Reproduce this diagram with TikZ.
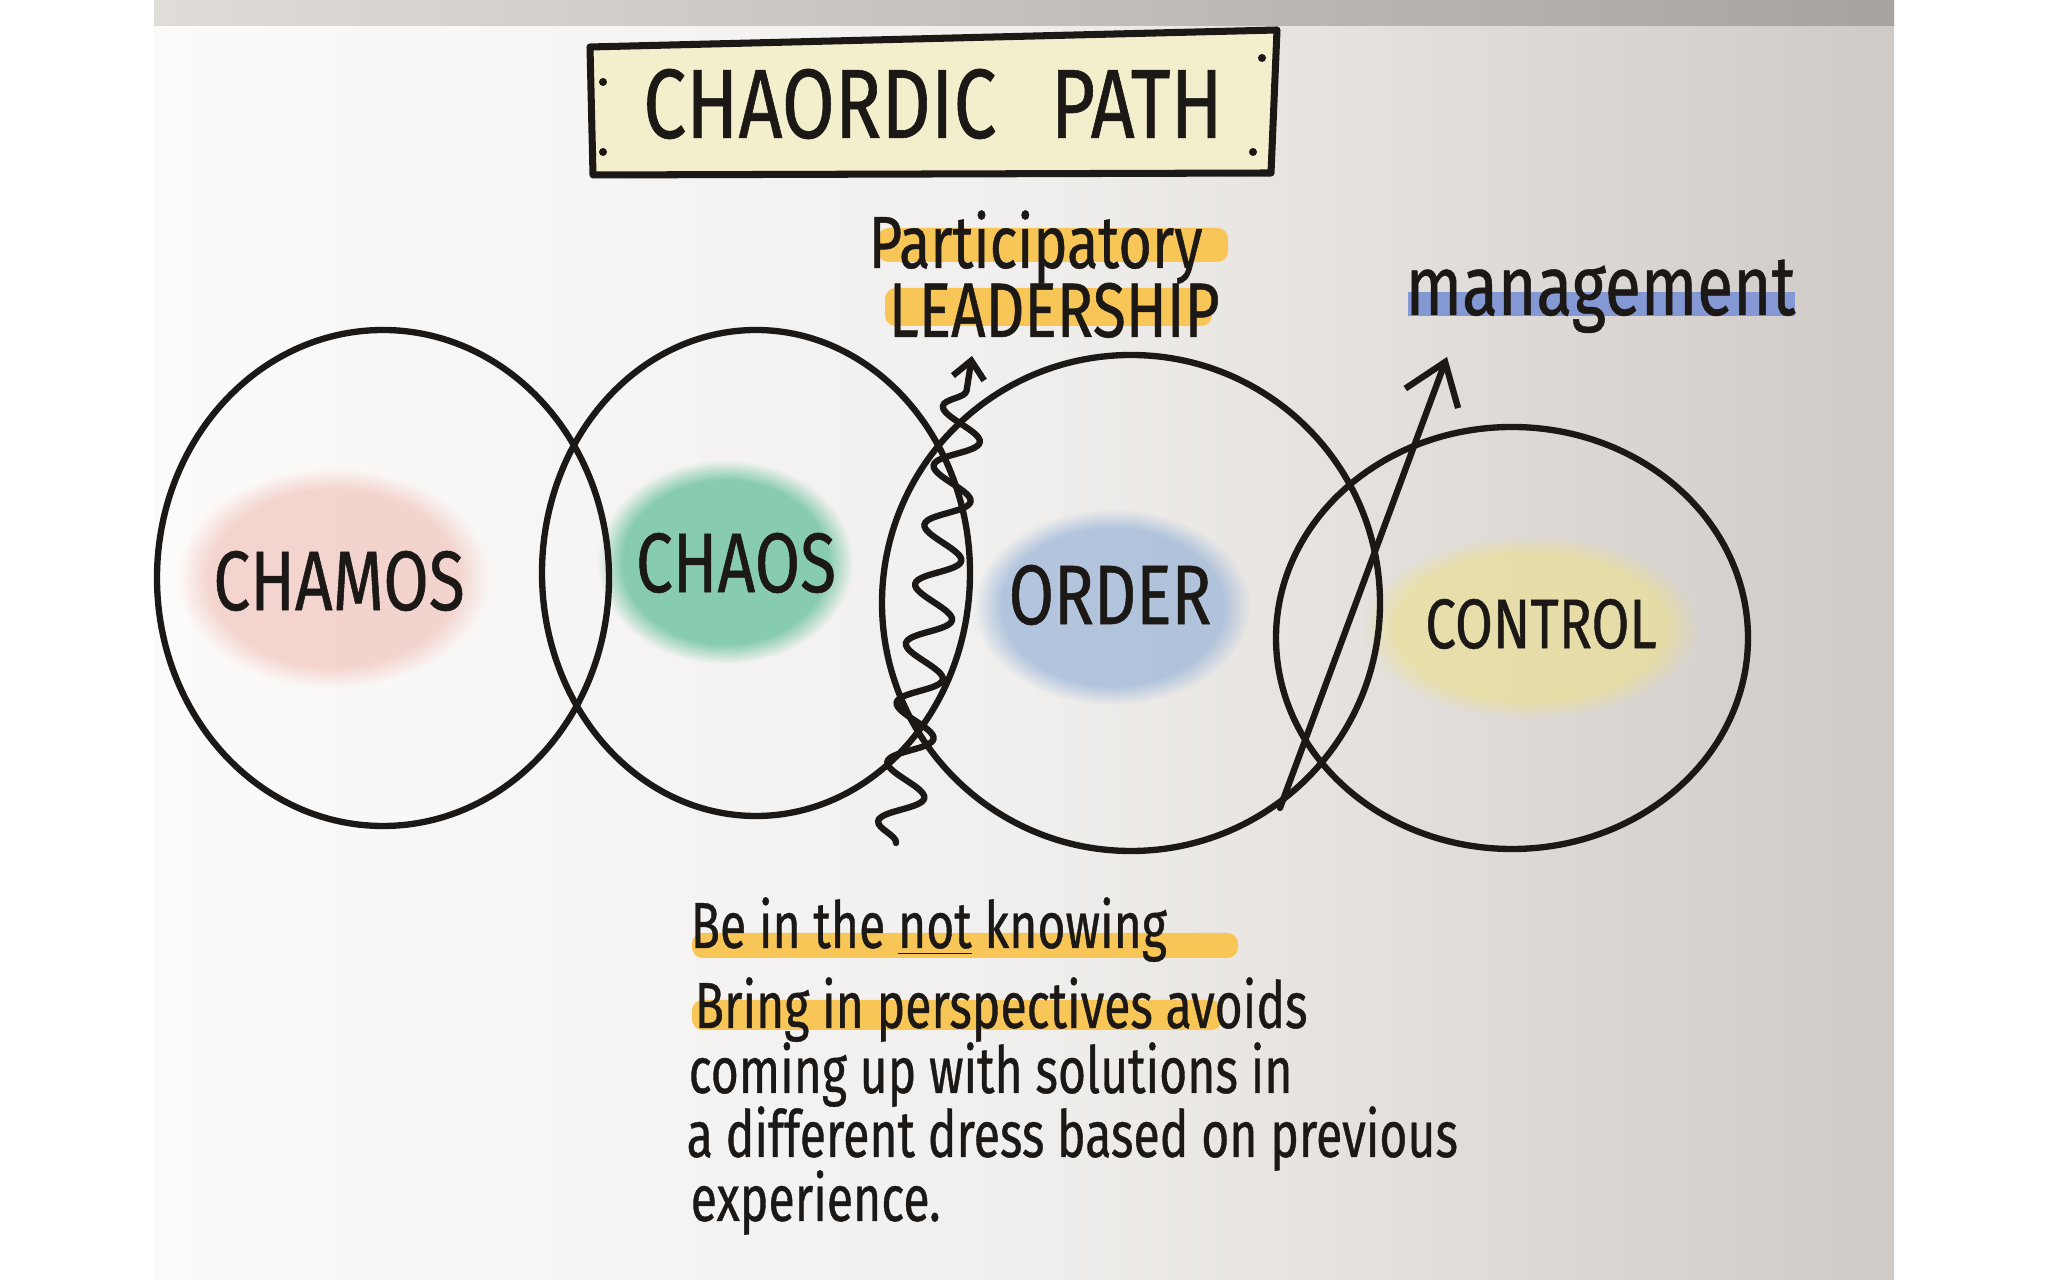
\documentclass[tikz,border=0pt]{standalone}
\usepackage{fontspec}
\newfontfamily\hand[FakeStretch=0.78, FakeBold=0.6]{Fira Sans}
\newfontfamily\handnarrow[FakeStretch=0.74, FakeBold=0.6]{Fira Sans}
\usepackage{tikz}
\usetikzlibrary{arrows.meta, decorations.pathmorphing, fadings}

\definecolor{ink}{RGB}{28,24,22}
\definecolor{marker}{RGB}{247,198,86}
\definecolor{markblue}{RGB}{132,152,212}
\definecolor{titlefill}{RGB}{243,238,204}
\definecolor{paperL}{RGB}{253,251,249}
\definecolor{paperM}{RGB}{241,239,237}
\definecolor{paperR}{RGB}{207,202,198}
\definecolor{bandL}{RGB}{224,220,216}
\definecolor{bandR}{RGB}{168,163,158}
\definecolor{blobred}{RGB}{238,176,166}
\definecolor{blobgreen}{RGB}{90,188,148}
\definecolor{blobblue}{RGB}{146,176,214}
\definecolor{blobyellow}{RGB}{236,224,146}
\pgfdeclarehorizontalshading{paper}{100bp}{color(0bp)=(paperL); color(25bp)=(paperL); color(50bp)=(paperM); color(75bp)=(paperR); color(100bp)=(paperR)}

\begin{document}
\begin{tikzpicture}[x=0.01cm, y=-0.01cm,
  ring/.style={line width=1.8pt, draw=ink, line cap=round},
  blob/.style={path fading=circle with fuzzy edge 20 percent},
  word/.style={text=ink, inner sep=0pt, font=\hand\fontsize{#1}{#1}\selectfont},
  word/.default=24,
  note/.style={text=ink, inner sep=0pt, anchor=base west, font=\handnarrow\fontsize{18.5}{19}\selectfont}]
  \useasboundingbox (0,0) rectangle (2048,1280);
  \shade[shading=paper] (154,0) rectangle (1894,1280);
  \shade[left color=bandL, right color=bandR] (154,0) rectangle (1894,26);

  \fill[blobred, blob, fill opacity=0.5] (333,578) ellipse [x radius=155, y radius=110];
  \fill[blobgreen, blob, fill opacity=0.7] (725,562) ellipse [x radius=128, y radius=102];
  \fill[blobblue, blob, fill opacity=0.65] (1112,607) ellipse [x radius=138, y radius=98];
  \fill[blobyellow, blob, fill opacity=0.65] (1530,627) ellipse [x radius=168, y radius=92];

  \draw[line width=2pt, draw=ink, fill=titlefill, line join=round] (590,47) -- (1277,30) -- (1271,173) -- (593,175) -- cycle;
  \fill[ink] (603,82) circle (4);
  \fill[ink] (1262,58) circle (4);
  \fill[ink] (603,152) circle (4);
  \fill[ink] (1253,152) circle (4);
  \node[word=28] (title) at (933,104) {CHAORDIC\hspace{0.55em}PATH};

  \fill[marker, rounded corners=3pt] (878,228) rectangle (1228,262);
  \fill[marker, rounded corners=3pt] (885,288) rectangle (1212,326);
  \fill[markblue] (1408,292) rectangle (1795,316);
  \fill[marker, rounded corners=3pt] (692,933) rectangle (1238,958);
  \fill[marker, rounded corners=3pt] (692,1000) rectangle (1222,1030);

  \node[word=21, anchor=base west] (partic) at (868,268) {Participatory};
  \node[word=22, anchor=base west] (leader) at (888,337) {LEADERSHIP};
  \node[word=24, anchor=base west] (mgmt) at (1405,315) {management};

  \draw[ring] (383,578) ellipse [x radius=226, y radius=248];
  \draw[ring] (756,573) ellipse [x radius=214, y radius=243];
  \draw[ring] (1131,603) ellipse [x radius=249, y radius=248];
  \draw[ring] (1512,638) ellipse [x radius=236, y radius=211];

  \node[word] (chamos) at (339,581) {CHAMOS};
  \node[word] (chaos) at (736,563) {CHAOS};
  \node[word] (order) at (1110,595) {ORDER};
  \node[word=20] (control) at (1541,624) {CONTROL};

  \coordinate (wavyS) at (896,843);
  \coordinate (wavyE) at (972,356);
  \draw[ring, -{Straight Barb[length=5pt, width=9pt]}, decorate,
    decoration={snake, segment length=0.6cm, amplitude=0.21cm, post length=0.3cm}] (wavyS) -- (wavyE);
  \coordinate (mgmtS) at (1280,808);
  \coordinate (mgmtE) at (1447,357);
  \draw[ring, -{Straight Barb[length=11pt, width=16pt]}] (mgmtS) -- (mgmtE);

  \node[note] (line1) at (690,948) {Be in the \underline{not} knowing};
  \node[note] (line2) at (694,1028) {Bring in perspectives avoids};
  \node[note] (line3) at (688,1093) {coming up with solutions in};
  \node[note] (line4) at (686,1157) {a different dress based on previous};
  \node[note] (line5) at (690,1221) {experience.};
\end{tikzpicture}
\end{document}
